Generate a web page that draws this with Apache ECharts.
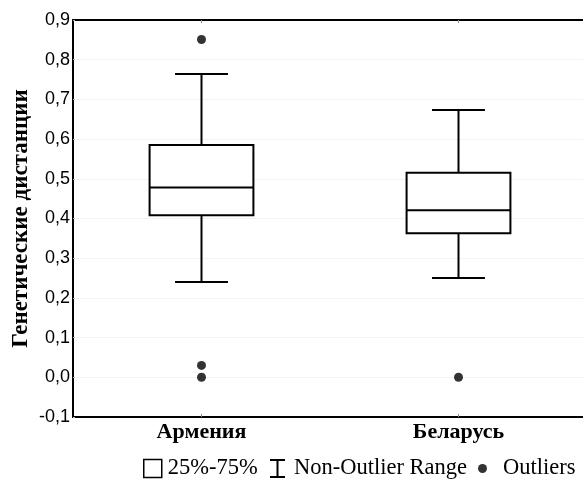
<!DOCTYPE html>
<html>
<head>
<meta charset="utf-8">
<script src="https://cdn.jsdelivr.net/npm/echarts@6/dist/echarts.min.js"></script>
<style>html,body{margin:0;padding:0;background:#fff;}#c{width:583px;height:479px;}</style>
</head>
<body>
<div id="c"></div>
<script>
const categories = ['Армения', 'Беларусь'];
const whiskerLow = [0.240, 0.250];
const q1 = [0.408, 0.363];
const median = [0.478, 0.421];
const q3 = [0.585, 0.515];
const whiskerHigh = [0.764, 0.673];
const outlierCat = [0, 0, 0, 1];
const outlierVal = [0.851, 0.030, 0.000, 0.000];
const yTicks = { min: -0.1, max: 0.9, step: 0.1 };

const serif = '"Liberation Serif", "Times New Roman", serif';
const sans = '"Liberation Sans", Arial, sans-serif';
const ink = '#000';

const boxData = categories.map((c, i) => [i, q1[i], median[i], q3[i]]);
const whiskData = categories.map((c, i) => [i, whiskerLow[i], q1[i], q3[i], whiskerHigh[i]]);
const outData = outlierCat.map((c, i) => [c, outlierVal[i]]);

const chart = echarts.init(document.getElementById('c'), null, { renderer: 'canvas' });
chart.setOption({
  animation: false,
  backgroundColor: '#fff',
  grid: { left: 73, top: 20, width: 514, height: 397, containLabel: false, outerBoundsMode: 'none' },
  xAxis: [{
    type: 'category', data: categories, boundaryGap: true, position: 'bottom',
    axisLine: { onZero: false, lineStyle: { color: ink, width: 2 } },
    axisTick: { show: true, inside: true, length: 3, alignWithLabel: true, lineStyle: { color: '#888', width: 1 } },
    axisLabel: { fontFamily: serif, fontWeight: 'bold', fontSize: 22, color: '#000', margin: 4 },
    splitLine: { show: false }
  }, {
    type: 'category', data: categories, boundaryGap: true, position: 'top',
    axisLine: { show: true, onZero: false, lineStyle: { color: ink, width: 2 } },
    axisTick: { show: true, inside: true, length: 3, alignWithLabel: true, lineStyle: { color: '#888', width: 1 } },
    axisLabel: { show: false }, splitLine: { show: false }
  }],
  yAxis: {
    type: 'value', min: yTicks.min, max: yTicks.max, interval: yTicks.step,
    name: 'Генетические дистанции', nameLocation: 'middle', nameGap: 40, nameMoveOverlap: false,
    nameTextStyle: { fontFamily: serif, fontWeight: 'bold', fontSize: 23, color: '#000' },
    axisLine: { show: true, onZero: false, lineStyle: { color: ink, width: 2 } },
    axisTick: { show: true, inside: true, length: 2, lineStyle: { color: '#bbb' } },
    axisLabel: { fontFamily: sans, fontSize: 18, color: '#000', margin: 3,
      formatter: v => v.toFixed(1).replace('.', ',') },
    splitLine: { show: true, lineStyle: { color: '#f3f3f3', width: 1 } }
  },
  legend: [{
    left: 143, top: 457, padding: 0, itemWidth: 18, itemHeight: 18, itemGap: 0, selectedMode: false,
    textStyle: { fontFamily: serif, fontSize: 22.5, color: '#000', padding: [0, 0, 0, 1] },
    data: [{ name: '25%-75%', icon: 'rect', itemStyle: { color: '#fff', borderColor: ink, borderWidth: 1.5 } }]
  }, {
    left: 270, top: 457, padding: 0, itemWidth: 15, itemHeight: 19, itemGap: 0, selectedMode: false,
    textStyle: { fontFamily: serif, fontSize: 22.5, color: '#000', padding: [0, 0, 0, 4] },
    data: [{ name: 'Non-Outlier Range', icon: 'path://M0,0H15V2H8.5V17H15V19H0V17H6.5V2H0Z', itemStyle: { color: ink } }]
  }, {
    left: 478, top: 457, padding: 0, itemWidth: 9, itemHeight: 9, itemGap: 0, selectedMode: false,
    textStyle: { fontFamily: serif, fontSize: 22.5, color: '#000', padding: [0, 0, 0, 11] },
    data: [{ name: 'Outliers', icon: 'circle', itemStyle: { color: ink } }]
  }],
  series: [{
    name: 'Non-Outlier Range', type: 'custom', xAxisIndex: 0,
    data: whiskData,
    encode: { x: 0, y: [1, 2, 3, 4] },
    renderItem: function (params, api) {
      const i = api.value(0);
      const band = api.size([1, 0])[0];
      const half = band * 0.103;
      const lo = api.coord([i, api.value(1)]);
      const b1 = api.coord([i, api.value(2)]);
      const b3 = api.coord([i, api.value(3)]);
      const hi = api.coord([i, api.value(4)]);
      const st = { stroke: ink, lineWidth: 2, fill: null };
      return { type: 'group', children: [
        { type: 'line', shape: { x1: lo[0], y1: lo[1], x2: b1[0], y2: b1[1] }, style: st },
        { type: 'line', shape: { x1: b3[0], y1: b3[1], x2: hi[0], y2: hi[1] }, style: st },
        { type: 'line', shape: { x1: lo[0] - half, y1: lo[1], x2: lo[0] + half, y2: lo[1] }, style: st },
        { type: 'line', shape: { x1: hi[0] - half, y1: hi[1], x2: hi[0] + half, y2: hi[1] }, style: st }
      ] };
    },
    itemStyle: { color: ink }
  }, {
    name: '25%-75%', type: 'custom', xAxisIndex: 0,
    data: boxData,
    encode: { x: 0, y: [1, 2, 3] },
    renderItem: function (params, api) {
      const i = api.value(0);
      const band = api.size([1, 0])[0];
      const half = band * 0.202;
      const p1 = api.coord([i, api.value(1)]);
      const pm = api.coord([i, api.value(2)]);
      const p3 = api.coord([i, api.value(3)]);
      const st = { stroke: ink, lineWidth: 2, fill: null };
      return { type: 'group', children: [
        { type: 'rect', shape: { x: p1[0] - half, y: p3[1], width: half * 2, height: p1[1] - p3[1] }, style: { stroke: ink, lineWidth: 2, fill: '#fff' } },
        { type: 'line', shape: { x1: pm[0] - half, y1: pm[1], x2: pm[0] + half, y2: pm[1] }, style: st }
      ] };
    },
    itemStyle: { color: '#fff', borderColor: ink }
  }, {
    name: 'Outliers', type: 'scatter', xAxisIndex: 0,
    data: outData, symbol: 'circle', symbolSize: 9,
    itemStyle: { color: ink }
  }]
});
</script>
</body>
</html>
